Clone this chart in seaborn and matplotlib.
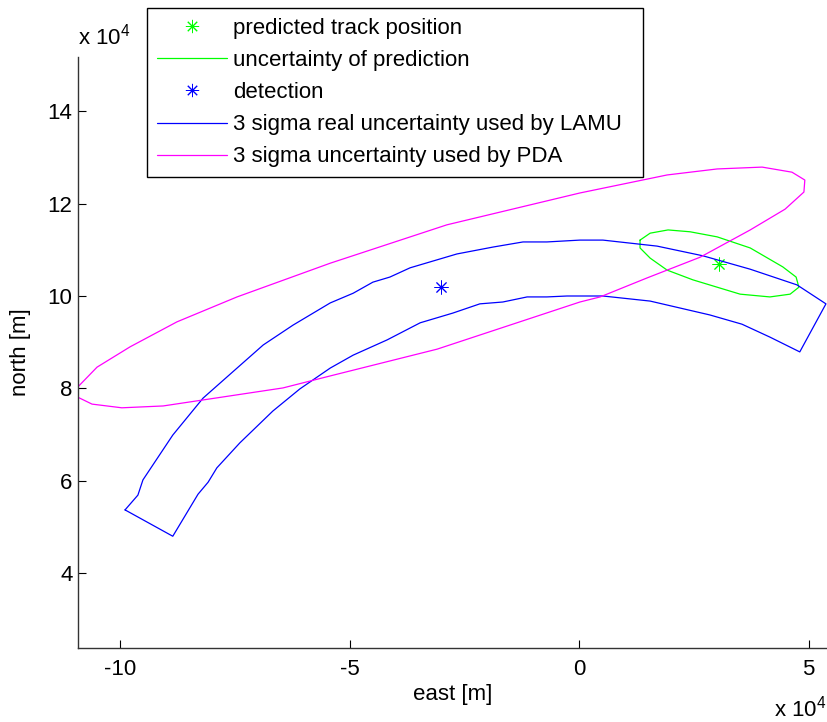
import numpy as np
import pandas as pd
import seaborn as sns
import matplotlib
matplotlib.use("Agg")
import matplotlib.pyplot as plt
from matplotlib.lines import Line2D

# ---- data (units of 1e4 m) ----
pda_x = [-10.92, -10.50, -9.78, -8.76, -7.45, -5.42, -2.88, 0.02, 1.92, 3.01, 3.99, 4.64, 4.92,
         4.90, 4.49, 3.73, 2.64, 1.48, 0.46, 0.02, -3.09, -5.42, -6.45, -9.06, -9.96, -10.61, -10.92, -10.92]
pda_y = [8.03, 8.46, 8.90, 9.44, 9.98, 10.71, 11.54, 12.23, 12.62, 12.75, 12.79, 12.68, 12.51,
         12.25, 11.88, 11.43, 10.84, 10.39, 9.98, 9.87, 8.85, 8.27, 8.01, 7.62, 7.58, 7.66, 7.81, 8.03]

lamu_x = [-9.89, -9.61, -9.50, -8.85, -8.19, -7.45, -6.88, -6.23, -5.42, -4.92, -4.49, -4.12, -3.68,
          -2.66, -1.87, -1.22, -0.70, 0.02, 0.52, 1.70, 2.70, 3.73, 4.75, 5.38,
          4.81, 4.16, 3.55, 2.85, 1.55, 0.52, -0.26, -0.70, -1.13, -1.66, -2.16, -2.75, -3.46,
          -4.18, -4.92, -5.42, -5.86, -6.08, -6.67, -7.39, -7.89, -8.08, -8.30, -8.85, -9.89]
lamu_y = [5.37, 5.69, 6.02, 6.99, 7.79, 8.44, 8.94, 9.37, 9.85, 10.06, 10.30, 10.41, 10.61,
          10.91, 11.06, 11.17, 11.17, 11.21, 11.21, 11.08, 10.87, 10.58, 10.24, 9.83,
          8.79, 9.11, 9.39, 9.59, 9.89, 10.00, 10.00, 9.98, 9.98, 9.87, 9.83, 9.63, 9.42,
          9.05, 8.72, 8.44, 8.14, 7.99, 7.51, 6.82, 6.28, 5.97, 5.71, 4.80, 5.37]

pred_ell_x = [1.33, 1.55, 1.94, 2.42, 3.01, 3.73, 4.44, 4.73, 4.79, 4.60, 4.16, 3.51, 2.48, 1.92, 1.55, 1.33, 1.33]
pred_ell_y = [11.21, 11.36, 11.43, 11.39, 11.28, 11.04, 10.63, 10.41, 10.19, 10.04, 9.98, 10.04, 10.35, 10.56, 10.82, 11.04, 11.21]

pred_pos_x = [3.04]
pred_pos_y = [10.70]
det_pos_x = [-3.01]
det_pos_y = [10.20]

labels = ["predicted track position", "uncertainty of prediction", "detection",
          "3 sigma real uncertainty used by LAMU", "3 sigma uncertainty used by PDA"]
x_ticks = [-10, -5, 0, 5]
y_ticks = [4, 6, 8, 10, 12, 14]

# ---- style ----
sns.set_style("ticks")
plt.rcParams["font.family"] = ["Liberation Sans", "DejaVu Sans"]
plt.rcParams["mathtext.fontset"] = "custom"
plt.rcParams["mathtext.rm"] = "Liberation Sans"
plt.rcParams["mathtext.it"] = "Liberation Sans"
plt.rcParams["text.color"] = "black"
plt.rcParams["axes.labelcolor"] = "black"

GREEN = "#00ff00"
BLUE = "#0000ff"
MAG = "#ff00ff"
FS = 16
LW = 0.9
AST = (8, 2, 0)

fig = plt.figure(figsize=(8.27, 7.22), dpi=100)
W, H = 827, 722
ax_l, ax_r, ax_t, ax_b = 78, 827, 57, 648
ax = fig.add_axes([ax_l / W, 1 - ax_b / H, (ax_r - ax_l) / W, (ax_b - ax_t) / H])

pda = pd.DataFrame({"x": pda_x, "y": pda_y})
lamu = pd.DataFrame({"x": lamu_x, "y": lamu_y})
ell = pd.DataFrame({"x": pred_ell_x, "y": pred_ell_y})

sns.lineplot(data=ell, x="x", y="y", sort=False, estimator=None, color=GREEN, lw=LW, ax=ax)
sns.lineplot(data=lamu, x="x", y="y", sort=False, estimator=None, color=BLUE, lw=LW, ax=ax)
sns.lineplot(data=pda, x="x", y="y", sort=False, estimator=None, color=MAG, lw=LW, ax=ax)
sns.scatterplot(x=pred_pos_x, y=pred_pos_y, marker=AST, color=GREEN, s=90, linewidth=0.7, ax=ax)
sns.scatterplot(x=det_pos_x, y=det_pos_y, marker=AST, color=BLUE, s=90, linewidth=0.7, ax=ax)

ax.set_xlim((ax_l - 579) / 45.9, (ax_r - 579) / 45.9)
ax.set_ylim(10 - (ax_b - 296) / 46.2, 10 + (296 - ax_t) / 46.2)
ax.set_xticks(x_ticks)
ax.set_yticks(y_ticks)
ax.set_xticklabels([str(t) for t in x_ticks])
ax.set_yticklabels([str(t) for t in y_ticks])
ax.tick_params(direction="in", length=6, width=0.8, labelsize=FS, colors="black")
ax.tick_params(axis="y", pad=4)
ax.tick_params(axis="x", pad=8)
for s in ["top", "right"]:
    ax.spines[s].set_visible(False)
for s in ["left", "bottom"]:
    ax.spines[s].set_color("#333333")
    ax.spines[s].set_linewidth(1.0)

ax.set_xlabel("east [m]", fontsize=FS, labelpad=3)
ax.set_ylabel("north [m]", fontsize=FS, labelpad=12)

fig.text(78 / W, 1 - 45 / H, r"x 10$^{4}$", fontsize=FS, ha="left", va="baseline")
fig.text(774 / W, 1 - 716 / H, r"x 10$^{4}$", fontsize=FS, ha="left", va="baseline")

handles = [
    Line2D([], [], ls="none", marker=AST, color=GREEN, markersize=9.5, mew=0.7),
    Line2D([], [], color=GREEN, lw=LW),
    Line2D([], [], ls="none", marker=AST, color=BLUE, markersize=9.5, mew=0.7),
    Line2D([], [], color=BLUE, lw=LW),
    Line2D([], [], color=MAG, lw=LW),
]
leg = ax.legend(handles, labels, loc="upper left",
                bbox_to_anchor=(147 / W, 1 - 178 / H, (643 - 147) / W, 170 / H),
                bbox_transform=fig.transFigure, mode="expand", borderaxespad=0, fontsize=FS,
                frameon=True, fancybox=False, framealpha=1, edgecolor="black",
                handlelength=3.15, handletextpad=0.27, labelspacing=0.5, borderpad=0.45)
leg.get_frame().set_linewidth(1.0)

fig.savefig("out.png", dpi=100)
